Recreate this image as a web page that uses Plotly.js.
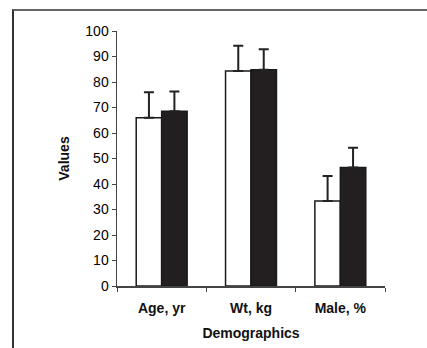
<!DOCTYPE html>
<html>
<head>
<meta charset="utf-8">
<script src="https://cdn.plot.ly/plotly-3.0.1.min.js"></script>
<style>
html,body{margin:0;padding:0;background:#fff;}
#wrap{position:absolute;left:0;top:0;width:427px;height:348px;}
#frame{position:absolute;left:12px;top:9px;width:415px;height:339px;border-left:2px solid #333;border-top:2px solid #666;box-sizing:border-box;pointer-events:none;}
#chart{position:absolute;left:0;top:0;width:427px;height:348px;}
</style>
</head>
<body>
<div id="wrap">
<div id="chart"></div>
<div id="frame"></div>
</div>
<script>
const categories = ["Age, yr", "Wt, kg", "Male, %"];
const whiteValues = [66, 84.3, 33.3];
const whiteErrors = [10, 9.9, 9.8];
const blackValues = [68.5, 84.8, 46.5];
const blackErrors = [7.8, 8, 7.7];
const yTicks = [0, 10, 20, 30, 40, 50, 60, 70, 80, 90, 100];

const errStyle = (arr) => ({type: 'data', array: arr, arrayminus: arr.map(() => 0), symmetric: false,
  visible: true, color: '#222', thickness: 2, width: 5});

const traces = [
  {type: 'bar', x: categories, y: whiteValues, error_y: errStyle(whiteErrors),
   marker: {color: '#ffffff', line: {color: '#1a1a1a', width: 1.5}}, showlegend: false},
  {type: 'bar', x: categories, y: blackValues, error_y: errStyle(blackErrors),
   marker: {color: '#231f20', line: {color: '#1a1a1a', width: 1.5}}, showlegend: false}
];

const layout = {
  width: 427, height: 348,
  margin: {l: 117, r: 42, t: 31, b: 62},
  paper_bgcolor: 'rgba(0,0,0,0)', plot_bgcolor: 'rgba(0,0,0,0)',
  barmode: 'group', bargap: 0.43, bargroupgap: 0,
  font: {family: '"Liberation Sans", Arial, sans-serif', color: '#111', size: 13},
  xaxis: {
    type: 'category', showgrid: false, zeroline: false,
    showline: true, linecolor: '#444', linewidth: 1.5,
    ticks: 'outside', tickson: 'boundaries', ticklen: 4, tickcolor: '#444', tickwidth: 1,
    ticklabelstandoff: 9,
    tickfont: {size: 14, color: '#111', family: '"Liberation Sans", Arial, sans-serif', weight: 'bold'},
    title: {text: 'Demographics', font: {size: 14, weight: 'bold', color: '#111'}, standoff: 13}
  },
  yaxis: {
    range: [0, 100], tickvals: yTicks, ticktext: yTicks.map(String),
    showgrid: false, zeroline: false,
    showline: true, linecolor: '#444', linewidth: 1.5,
    ticks: 'outside', ticklen: 4, tickcolor: '#444', tickwidth: 1,
    tickfont: {size: 14, color: '#000'},
    title: {text: 'Values', font: {size: 14, weight: 'bold', color: '#111'}, standoff: 12}
  }
};

Plotly.newPlot('chart', traces, layout, {staticPlot: true, displayModeBar: false});
</script>
</body>
</html>
